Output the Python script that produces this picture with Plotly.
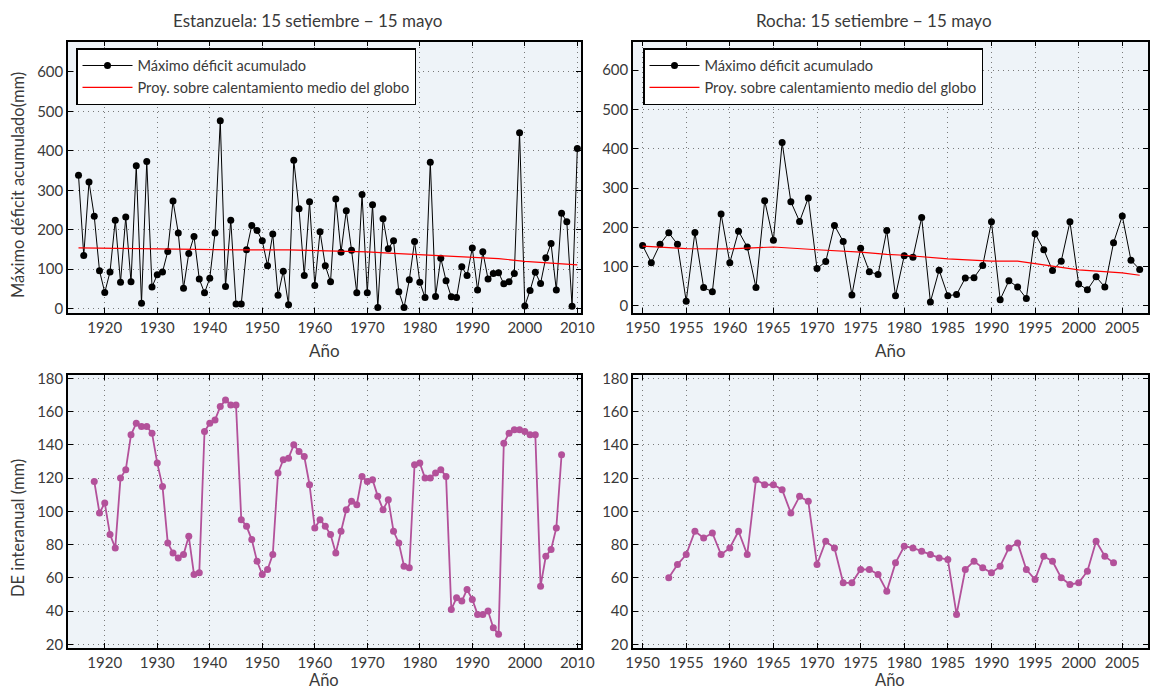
import plotly.graph_objects as go

# Estanzuela - maximo deficit acumulado (1915-2010)
est_years = list(range(1915, 2011))
est_deficit = [338, 135, 321, 234, 96, 41, 93, 224, 67, 232,
               68, 362, 14, 373, 55, 86, 93, 145, 273, 192,
               52, 140, 183, 75, 40, 77, 192, 476, 56, 224,
               12, 12, 149, 211, 198, 172, 109, 189, 34, 95,
               10, 376, 253, 84, 271, 59, 195, 109, 68, 278,
               143, 248, 148, 40, 289, 40, 263, 3, 228, 152,
               172, 43, 3, 73, 170, 67, 28, 371, 31, 128,
               71, 30, 28, 106, 84, 154, 47, 144, 75, 89,
               91, 63, 68, 89, 446, 7, 46, 92, 64, 129,
               165, 47, 242, 220, 6, 406]
est_trend_years = [1915, 1925, 1935, 1945, 1955, 1963, 1970, 1975, 1980, 1990, 1995, 2000, 2005, 2010]
est_trend = [154, 152, 151, 149, 149, 146, 144, 140, 137, 131, 127, 120, 116, 111]

# Rocha - maximo deficit acumulado (1950-2007)
roc_years = list(range(1950, 2008))
roc_deficit = [154, 110, 157, 186, 157, 12, 187, 47, 36, 234,
               110, 190, 150, 47, 268, 167, 416, 265, 215, 275,
               95, 113, 205, 164, 28, 147, 87, 80, 192, 26,
               128, 124, 225, 10, 91, 26, 29, 71, 72, 103,
               214, 16, 64, 48, 19, 184, 143, 90, 114, 214,
               56, 41, 74, 48, 161, 229, 116, 93]
roc_trend_years = [1950, 1955, 1960, 1965, 1970, 1975, 1978, 1980, 1985, 1990, 1993, 1995, 2000, 2005, 2007]
roc_trend = [152, 146, 145, 150, 143, 137, 131, 129, 120, 114, 114, 108, 92, 84, 78]

# DE interanual
est_de_years = list(range(1918, 2008))
est_de = [118, 99, 105, 86, 78, 120, 125, 146, 153, 151,
          151, 147, 129, 115, 81, 75, 72, 74, 85, 62,
          63, 148, 153, 155, 163, 167, 164, 164, 95, 91,
          83, 70, 62, 65, 74, 123, 131, 132, 140, 136,
          133, 116, 90, 95, 91, 86, 75, 88, 101, 106,
          104, 121, 118, 119, 109, 101, 107, 88, 81, 67,
          66, 128, 129, 120, 120, 123, 125, 121, 41, 48,
          46, 53, 47, 38, 38, 40, 30, 26, 141, 147,
          149, 149, 148, 146, 146, 55, 73, 77, 90, 134]
roc_de_years = list(range(1953, 2005))
roc_de = [60, 68, 74, 88, 84, 87, 74, 78, 88, 74,
          119, 116, 116, 113, 99, 109, 106, 68, 82, 78,
          57, 57, 65, 65, 62, 52, 69, 79, 78, 76,
          74, 72, 71, 38, 65, 70, 66, 63, 67, 78,
          81, 65, 59, 73, 70, 60, 56, 57, 64, 82,
          73, 69]

FONT = "Lato, 'Open Sans', sans-serif"
BG = "#eef3f8"
PURPLE = "#b3519a"
TXT = "#3a3a3a"

fig = go.Figure()

# top panels
fig.add_trace(go.Scatter(x=est_years, y=est_deficit, mode="lines+markers",
                         line=dict(color="black", width=1), marker=dict(color="black", size=7),
                         name="Máximo déficit acumulado", xaxis="x", yaxis="y", legend="legend"))
fig.add_trace(go.Scatter(x=est_trend_years, y=est_trend, mode="lines", line=dict(color="red", width=1.2),
                         name="Proy. sobre calentamiento medio del globo", xaxis="x", yaxis="y", legend="legend"))
fig.add_trace(go.Scatter(x=roc_years, y=roc_deficit, mode="lines+markers",
                         line=dict(color="black", width=1), marker=dict(color="black", size=7),
                         name="Máximo déficit acumulado", xaxis="x2", yaxis="y2", legend="legend2"))
fig.add_trace(go.Scatter(x=roc_trend_years, y=roc_trend, mode="lines", line=dict(color="red", width=1.2),
                         name="Proy. sobre calentamiento medio del globo", xaxis="x2", yaxis="y2", legend="legend2"))
# bottom panels
fig.add_trace(go.Scatter(x=est_de_years, y=est_de, mode="lines+markers",
                         line=dict(color=PURPLE, width=1.8), marker=dict(color=PURPLE, size=7),
                         showlegend=False, xaxis="x3", yaxis="y3"))
fig.add_trace(go.Scatter(x=roc_de_years, y=roc_de, mode="lines+markers",
                         line=dict(color=PURPLE, width=1.8), marker=dict(color=PURPLE, size=7),
                         showlegend=False, xaxis="x4", yaxis="y4"))

W, H = 1151, 692
left_x = [68 / W, 581 / W]
right_x = [633 / W, 1148 / W]
top_y = [1 - 313 / H, 1 - 41.5 / H]
bot_y = [1 - 648 / H, 1 - 375 / H]

ax_common = dict(showline=True, linecolor="black", linewidth=1.5, mirror="ticks",
                 ticks="inside", ticklen=5, tickcolor="black",
                 showgrid=True, gridcolor="#7a7a7a", griddash="1px,4px", gridwidth=1.2,
                 zeroline=False, tickfont=dict(size=15, color=TXT))

def xax(domain, rng, dtick, anchor):
    return dict(ax_common, domain=domain, range=rng, dtick=dtick, anchor=anchor)

def yax(domain, rng, dtick, anchor):
    return dict(ax_common, domain=domain, range=rng, dtick=dtick, anchor=anchor)

legend_style = dict(xanchor="left", yanchor="top", bgcolor="white", bordercolor="black",
                    borderwidth=1.5, font=dict(size=14.6, color=TXT), itemwidth=50, tracegroupgap=0)

def note(text, x, y, size, angle=0):
    return dict(text=text, x=x / W, y=1 - y / H, xref="paper", yref="paper", showarrow=False,
                xanchor="center", yanchor="middle", textangle=angle, font=dict(size=size, color=TXT))

fig.update_layout(
    width=W, height=H,
    paper_bgcolor="white", plot_bgcolor=BG,
    font=dict(family=FONT, color=TXT),
    margin=dict(l=0, r=0, t=0, b=0, autoexpand=False),
    xaxis=xax(left_x, [1913, 2010.7], 10, "y"),
    yaxis=yax(top_y, [-11, 677], 100, "x"),
    xaxis2=xax(right_x, [1948.9, 2007.95], 5, "y2"),
    yaxis2=yax(top_y, [-18, 673], 100, "x2"),
    xaxis3=xax(left_x, [1913, 2010.7], 10, "y3"),
    yaxis3=yax(bot_y, [17.8, 182], 20, "x3"),
    xaxis4=xax(right_x, [1948.9, 2007.95], 5, "y4"),
    yaxis4=yax(bot_y, [17.8, 182], 20, "x4"),
    legend=dict(legend_style, x=76 / W, y=1 - 48 / H),
    legend2=dict(legend_style, x=643 / W, y=1 - 48 / H),
    annotations=[
        note("Estanzuela: 15 setiembre − 15 mayo", 307, 20, 17),
        note("Rocha: 15 setiembre − 15 mayo", 874, 20, 17),
        note("Máximo déficit acumulado(mm)", 18, 185, 16.5, -90),
        note("DE interanual (mm)", 18, 528, 16.5, -90),
        note("Año", 324, 350, 17),
        note("Año", 890, 350, 17),
        note("Año", 324, 680, 16.5),
        note("Año", 890, 680, 16.5),
    ],
)

fig.write_html("out.html", config={"displayModeBar": False},
               post_script="document.body.style.margin='0px';")
